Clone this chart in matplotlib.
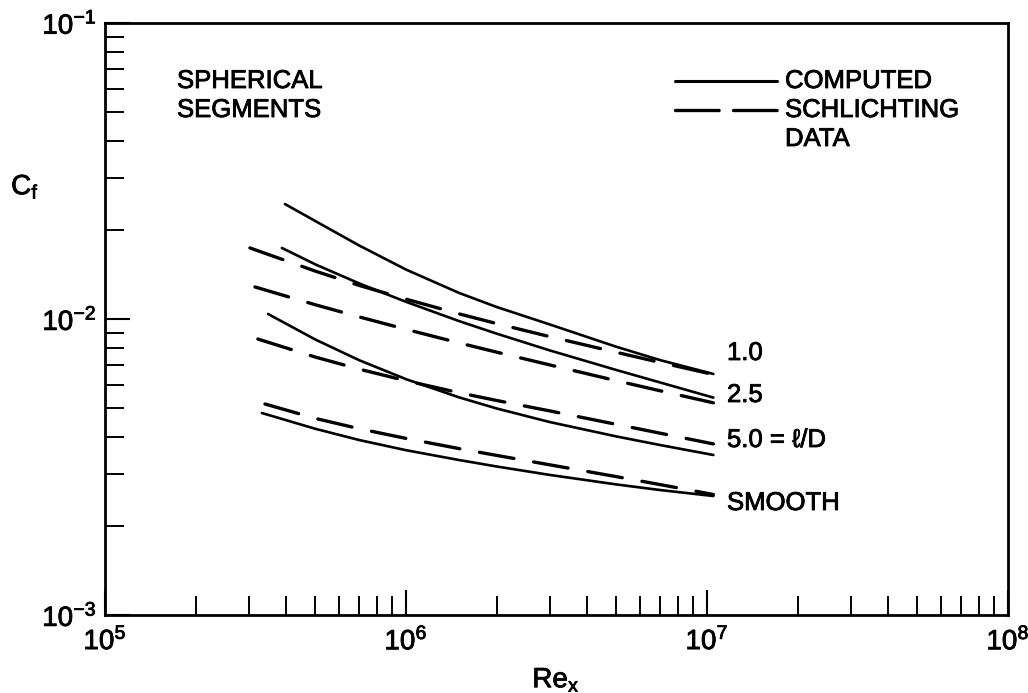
import matplotlib
matplotlib.use("Agg")
import matplotlib.pyplot as plt
from matplotlib.lines import Line2D
from matplotlib.ticker import LogLocator, NullFormatter
import matplotlib.patheffects as pe

plt.rcParams['font.family'] = ['Liberation Sans', 'DejaVu Sans']
plt.rcParams['mathtext.default'] = 'regular'

# ---- data ----
re_grid = [5e5, 7e5, 1e6, 1.5e6, 2e6, 3e6, 5e6, 7e6, 1.05e7]

# computed (solid)
re_c10 = [3.96e5] + re_grid
cf_c10 = [0.02446, 0.02142, 0.01770, 0.01469, 0.01225, 0.01098, 0.009589, 0.008056, 0.007259, 0.006521]
re_c25 = [3.87e5] + re_grid
cf_c25 = [0.01738, 0.01529, 0.01318, 0.01143, 0.009840, 0.008925, 0.007835, 0.006724, 0.006100, 0.005425]
re_c50 = [3.48e5] + re_grid
cf_c50 = [0.01040, 0.008522, 0.007253, 0.006263, 0.005436, 0.004986, 0.004487, 0.004011, 0.003750, 0.003472]
re_cs = [3.32e5] + re_grid
cf_cs = [0.004813, 0.004256, 0.003899, 0.003604, 0.003339, 0.003175, 0.002974, 0.002761, 0.002643, 0.002523]

# Schlichting data (dashed)
re_s10 = [3.03e5] + re_grid
cf_s10 = [0.01738, 0.01451, 0.01298, 0.01167, 0.01041, 0.009651, 0.008720, 0.007716, 0.007129, 0.006494]
re_s25 = [3.15e5] + re_grid
cf_s25 = [0.01283, 0.01117, 0.01016, 0.009229, 0.008304, 0.007727, 0.006998, 0.006188, 0.005719, 0.005209]
re_s50 = [3.22e5] + re_grid
cf_s50 = [0.008557, 0.007435, 0.006768, 0.006187, 0.005636, 0.005306, 0.004893, 0.004406, 0.004112, 0.003784]
re_ss = [3.40e5] + re_grid
cf_ss = [0.005162, 0.004615, 0.004258, 0.003950, 0.003649, 0.003461, 0.003217, 0.002934, 0.002757, 0.002553]

curve_labels = ["1.0", "2.5", "5.0 = ℓ/D", "SMOOTH"]
x_ticks = [1e5, 1e6, 1e7, 1e8]
x_ticklabels = [r"$10^{5}$", r"$10^{6}$", r"$10^{7}$", r"$10^{8}$"]
y_ticks = [1e-3, 1e-2, 1e-1]
y_ticklabels = [r"$10^{-3}$", r"$10^{-2}$", r"$10^{-1}$"]

# ---- figure ----
W, H = 1028, 693
fig = plt.figure(figsize=(W / 100, H / 100), dpi=100)
L, R, T, B = 105, 1008, 23, 615
ax = fig.add_axes([L / W, 1 - B / H, (R - L) / W, (B - T) / H])

def fx(px):
    return px / W

def fy(py):
    return 1 - py / H

bold = [pe.withStroke(linewidth=0.6, foreground='black')]

lw = 1.9
dash = (10.5, 6)
for x, y in [(re_c10, cf_c10), (re_c25, cf_c25), (re_c50, cf_c50), (re_cs, cf_cs)]:
    ax.plot(x, y, color='black', lw=lw, solid_capstyle='round', solid_joinstyle='round')
for x, y in [(re_s10, cf_s10), (re_s25, cf_s25), (re_s50, cf_s50), (re_ss, cf_ss)]:
    ax.plot(x, y, color='black', lw=lw + 0.5, dashes=dash, dash_capstyle='round')

ax.set_xscale('log')
ax.set_yscale('log')
ax.set_xlim(1e5, 1e8)
ax.set_ylim(1e-3, 1e-1)

ax.set_xticks(x_ticks)
ax.set_xticklabels(x_ticklabels)
ax.set_yticks(y_ticks)
ax.set_yticklabels(y_ticklabels)
ax.xaxis.set_minor_locator(LogLocator(base=10, subs=range(2, 10)))
ax.yaxis.set_minor_locator(LogLocator(base=10, subs=range(2, 10)))
ax.xaxis.set_minor_formatter(NullFormatter())
ax.yaxis.set_minor_formatter(NullFormatter())

ax.tick_params(which='major', direction='in', length=18, width=1.5, labelsize=20, pad=9)
ax.tick_params(which='minor', direction='in', length=14, width=1.4)
ax.tick_params(axis='y', which='major', pad=6)
for lab in ax.get_xticklabels() + ax.get_yticklabels():
    lab.set_path_effects(bold)
for s in ax.spines.values():
    s.set_linewidth(2.0)

# axis labels
fig.text(fx(25), fy(187), r"$C_f$", fontsize=20, ha='center', va='center', path_effects=bold)
fig.text(fx(556), fy(680), r"$Re_x$", fontsize=20, ha='center', va='center', path_effects=bold)

# annotations
fs = 18.5
fig.text(fx(177), fy(81), "SPHERICAL", fontsize=fs, ha='left', va='center', path_effects=bold)
fig.text(fx(177), fy(110), "SEGMENTS", fontsize=fs, ha='left', va='center', path_effects=bold)

fig.add_artist(Line2D([fx(675), fx(777)], [fy(81), fy(81)], color='black', lw=2.2,
                      solid_capstyle='round'))
fig.add_artist(Line2D([fx(675), fx(777)], [fy(110), fy(110)], color='black', lw=2.4,
                      dashes=(13.1, 4.3), dash_capstyle='round'))
fig.text(fx(785), fy(81), "COMPUTED", fontsize=fs, ha='left', va='center', path_effects=bold)
fig.text(fx(785), fy(110), "SCHLICHTING", fontsize=fs, ha='left', va='center', path_effects=bold)
fig.text(fx(785), fy(139), "DATA", fontsize=fs, ha='left', va='center', path_effects=bold)

label_y = [353, 395, 440, 503]
for txt, py in zip(curve_labels, label_y):
    fig.text(fx(727), fy(py), txt, fontsize=fs, ha='left', va='center', path_effects=bold)

fig.savefig("out.png", dpi=100)
